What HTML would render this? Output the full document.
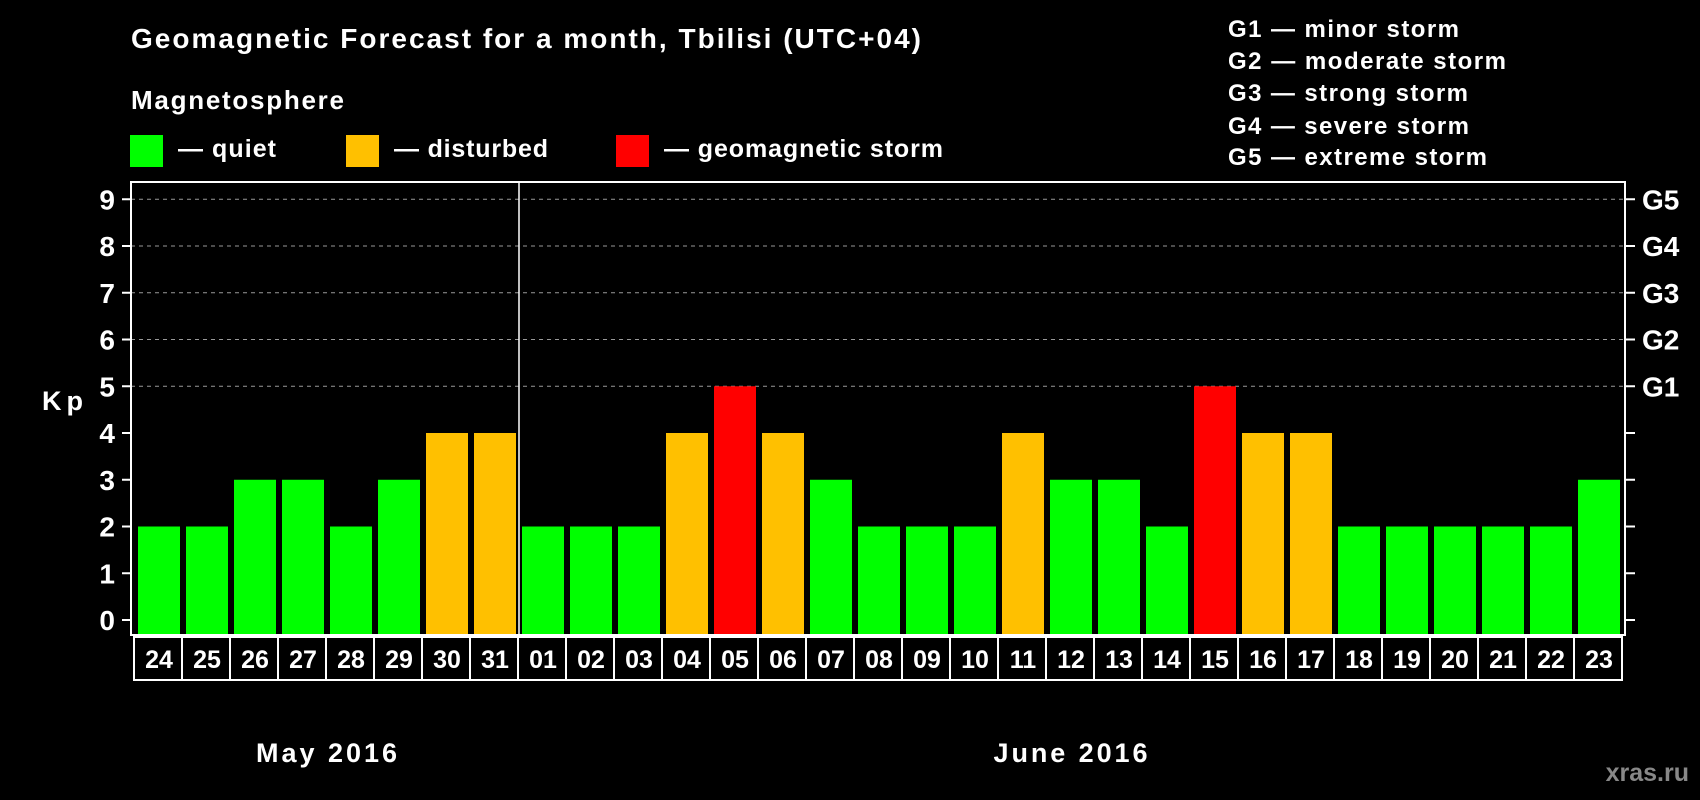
<!DOCTYPE html>
<html><head><meta charset="utf-8"><style>
html,body{margin:0;padding:0;background:#000;}
svg{display:block;font-family:"Liberation Sans",Arial,sans-serif;font-weight:bold;}
</style></head><body>
<svg id="chart" width="1700" height="800" viewBox="0 0 1700 800">
<rect width="1700" height="800" fill="#000"/>
<text x="131" y="48" fill="#fff" font-size="28" textLength="790">Geomagnetic Forecast for a month, Tbilisi (UTC+04)</text>
<text x="131" y="109" fill="#fff" font-size="26" textLength="213">Magnetosphere</text>
<g><rect x="130" y="135" width="33" height="32" fill="#00ff00"/><text x="178" y="157" fill="#fff" font-size="25" textLength="98">— quiet</text></g>
<g><rect x="346" y="135" width="33" height="32" fill="#ffc000"/><text x="394" y="157" fill="#fff" font-size="25" textLength="154">— disturbed</text></g>
<g><rect x="616" y="135" width="33" height="32" fill="#ff0000"/><text x="664" y="157" fill="#fff" font-size="25" textLength="279">— geomagnetic storm</text></g>
<g fill="#fff" font-size="24">
<text x="1228" y="37" textLength="231">G1 — minor storm</text>
<text x="1228" y="69" textLength="278">G2 — moderate storm</text>
<text x="1228" y="101" textLength="240">G3 — strong storm</text>
<text x="1228" y="134" textLength="241">G4 — severe storm</text>
<text x="1228" y="165" textLength="259">G5 — extreme storm</text>
</g>
<text x="42" y="410" fill="#fff" font-size="27" textLength="41">Kp</text>
<g id="grid"></g><g id="bars"></g><g id="axes"></g>
<text x="1689" y="781" fill="#888" font-size="25" text-anchor="end">xras.ru</text>
</svg>
<script>
const days = ["24","25","26","27","28","29","30","31","01","02","03","04","05","06","07","08","09","10","11","12","13","14","15","16","17","18","19","20","21","22","23"];
const kpValues = [2,2,3,3,2,3,4,4,2,2,2,4,5,4,3,2,2,2,4,3,3,2,5,4,4,2,2,2,2,2,3];
const yTicks = [0,1,2,3,4,5,6,7,8,9];
const gLabels = ["G1","G2","G3","G4","G5"];
const monthLabels = ["May 2016","June 2016"];
const monthSplit = 8;

const NS="http://www.w3.org/2000/svg";
const pL=131,pR=1625,pT=182,pB=635;
const x0=138,pitch=48,bw=42;
function yS(v){return 620-v*46.75;}
function xb(i){return x0+i*pitch;}
function mk(tag,attrs,parent,text){const e=document.createElementNS(NS,tag);for(const k in attrs)e.setAttribute(k,attrs[k]);if(text!==undefined)e.textContent=text;parent.appendChild(e);return e;}
const gridG=document.getElementById('grid'),barsG=document.getElementById('bars'),axesG=document.getElementById('axes');
yTicks.forEach(t=>{
  if(t>=5){const l=mk('line',{x1:pL,x2:pR,y1:yS(t),y2:yS(t),stroke:'#999','stroke-dasharray':'4,4','stroke-width':1},gridG);
  
  }
  const tl=mk('line',{x1:122,x2:pL,y1:yS(t),y2:yS(t),stroke:'#fff','stroke-width':2},axesG);
  
  
  const tr=mk('line',{x1:pR,x2:1635,y1:yS(t),y2:yS(t),stroke:'#fff','stroke-width':2},axesG);
  
  
  const lb=mk('text',{x:115,y:yS(t)+10,fill:'#fff','font-size':28,'text-anchor':'end'},axesG,String(t));
  
  
});
gLabels.forEach((g,i)=>{
  const lb=mk('text',{x:1642,y:yS(5+i)+10,fill:'#fff','font-size':28},axesG,g);
  
  
});
function color(v){return v>=5?'#ff0000':(v>=4?'#ffc000':'#00ff00');}
kpValues.forEach((v,i)=>{
  const r=mk('rect',{x:xb(i),y:yS(v),width:bw,height:pB-yS(v),fill:color(v)},barsG);
  
  
  const c=mk('rect',{x:xb(i)-4,y:637,width:pitch,height:43,fill:'none',stroke:'#fff','stroke-width':2},axesG);
  
  
  const t=mk('text',{x:xb(i)+bw/2,y:668,fill:'#fff','font-size':25,'text-anchor':'middle'},axesG,days[i]);
  
  
});
const frame=mk('rect',{x:pL,y:pT,width:pR-pL,height:pB-pT,fill:'none',stroke:'#fff','stroke-width':2},axesG);


const sx=xb(monthSplit)-3;
const sep=mk('line',{x1:sx,x2:sx,y1:pT,y2:pB,stroke:'#fff','stroke-width':1.5},axesG);


const m1=mk('text',{x:(xb(0)-4+sx)/2,y:762,fill:'#fff','font-size':27,'text-anchor':'middle',textLength:141},axesG,monthLabels[0]);


const m2=mk('text',{x:(sx+xb(days.length-1)+bw+2)/2,y:762,fill:'#fff','font-size':27,'text-anchor':'middle',textLength:154},axesG,monthLabels[1]);


</script>
</body></html>
